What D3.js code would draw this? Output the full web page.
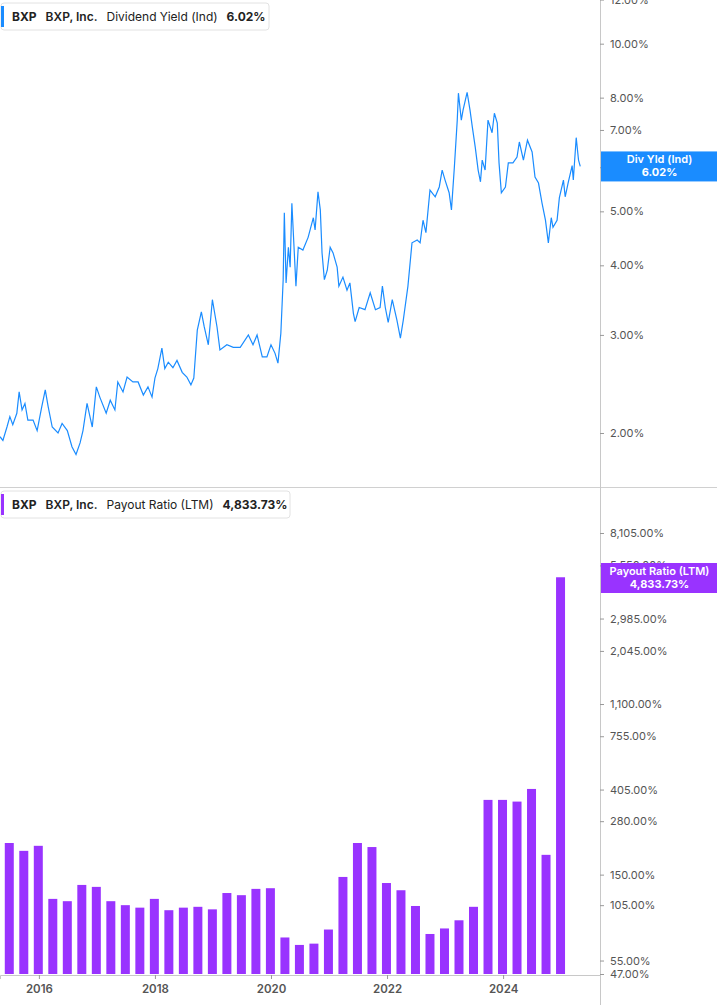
<!DOCTYPE html>
<html><head><meta charset="utf-8">
<script src="https://cdn.jsdelivr.net/npm/d3@7"></script>
<style>
body{margin:0;background:#fff;font-family:Inter,"Noto Sans",sans-serif;}
svg text{font-family:Inter,"Noto Sans",sans-serif;}
</style></head><body>
<div id="chart"></div>
<script>
// dividend yield (ind), % — [decimal year, value]
var yieldSeries = [
[2015.33,1.97],[2015.38,1.94],[2015.45,2.05],[2015.50,2.14],[2015.55,2.07],[2015.62,2.17],[2015.66,2.37],[2015.71,2.20],
[2015.76,2.26],[2015.81,2.11],[2015.90,2.11],[2015.97,2.02],[2016.05,2.23],[2016.11,2.39],[2016.16,2.23],[2016.23,2.05],
[2016.33,2.00],[2016.40,2.08],[2016.49,2.02],[2016.57,1.89],[2016.64,1.83],[2016.71,1.92],[2016.76,2.02],[2016.83,2.26],
[2016.92,2.05],[2016.99,2.42],[2017.05,2.32],[2017.16,2.17],[2017.23,2.29],[2017.31,2.20],[2017.36,2.47],[2017.45,2.37],
[2017.52,2.52],[2017.62,2.47],[2017.71,2.47],[2017.80,2.34],[2017.88,2.42],[2017.95,2.32],[2018.00,2.51],[2018.05,2.61],
[2018.12,2.84],[2018.17,2.61],[2018.23,2.68],[2018.31,2.62],[2018.38,2.70],[2018.47,2.57],[2018.55,2.52],[2018.62,2.44],
[2018.67,2.51],[2018.73,3.06],[2018.80,3.30],[2018.85,3.10],[2018.92,2.88],[2018.99,3.47],[2019.07,3.10],[2019.12,2.82],
[2019.24,2.88],[2019.35,2.85],[2019.47,2.85],[2019.61,3.00],[2019.69,2.88],[2019.76,3.00],[2019.85,2.74],[2019.93,2.74],
[2020.00,2.88],[2020.07,2.78],[2020.12,2.67],[2020.17,3.02],[2020.21,3.77],[2020.23,4.97],[2020.26,3.72],[2020.30,4.31],
[2020.33,3.97],[2020.36,5.17],[2020.43,3.67],[2020.47,4.31],[2020.55,4.26],[2020.64,4.49],[2020.73,4.87],[2020.76,4.63],
[2020.81,5.42],[2020.85,5.03],[2020.88,4.21],[2020.92,3.77],[2020.97,3.92],[2021.02,4.31],[2021.07,4.21],[2021.14,3.97],
[2021.17,3.67],[2021.24,3.81],[2021.31,3.61],[2021.36,3.72],[2021.42,3.28],[2021.45,3.17],[2021.52,3.36],[2021.62,3.33],
[2021.71,3.57],[2021.80,3.33],[2021.88,3.36],[2021.92,3.67],[2021.97,3.36],[2022.02,3.16],[2022.09,3.47],[2022.17,3.19],
[2022.23,2.96],[2022.28,3.19],[2022.36,3.67],[2022.43,4.39],[2022.52,4.44],[2022.57,4.39],[2022.62,4.82],[2022.67,4.58],
[2022.74,5.46],[2022.83,5.31],[2022.90,5.53],[2022.95,5.93],[2023.00,5.69],[2023.07,5.40],[2023.11,5.03],[2023.16,6.00],
[2023.21,7.29],[2023.23,8.15],[2023.28,7.29],[2023.31,7.60],[2023.38,8.18],[2023.43,7.60],[2023.47,7.08],[2023.52,6.52],
[2023.57,5.93],[2023.61,5.65],[2023.64,6.18],[2023.69,5.93],[2023.74,7.29],[2023.81,6.92],[2023.85,7.50],[2023.90,7.20],
[2023.93,6.11],[2023.97,5.40],[2024.04,5.53],[2024.09,6.11],[2024.17,6.11],[2024.24,6.26],[2024.28,6.66],[2024.35,6.18],
[2024.42,6.71],[2024.50,6.39],[2024.55,5.76],[2024.61,5.62],[2024.67,5.18],[2024.73,4.82],[2024.78,4.39],[2024.83,4.87],
[2024.86,4.68],[2024.93,4.82],[2024.97,5.29],[2025.04,5.69],[2025.07,5.31],[2025.12,5.62],[2025.19,6.04],[2025.21,5.69],
[2025.26,6.78],[2025.30,6.18],[2025.33,6.02]
];
// payout ratio (LTM), % — quarter-end bars from 2015 Q2
var payoutQuarters = ["2015Q2","2015Q3","2015Q4","2016Q1","2016Q2","2016Q3","2016Q4","2017Q1","2017Q2","2017Q3","2017Q4",
"2018Q1","2018Q2","2018Q3","2018Q4","2019Q1","2019Q2","2019Q3","2019Q4","2020Q1","2020Q2","2020Q3","2020Q4",
"2021Q1","2021Q2","2021Q3","2021Q4","2022Q1","2022Q2","2022Q3","2022Q4","2023Q1","2023Q2","2023Q3","2023Q4",
"2024Q1","2024Q2","2024Q3","2024Q4"];
var payoutValues = [217,198,210,113,110,133,130,110,105,102,113,99,102,103,100,121,118,127,128,72,66,67,79,
146,217,207,136,125,104,75,80,88,103,359,359,352,408,189,4833.73];
var yieldTicks = [2,3,4,5,6,7,8,10,12];
var payoutTicks = [47,55,105,150,280,405,755,1100,2045,2985,5550,8105];
var yearTicks = [2016,2018,2020,2022,2024];

var W = 717, H = 1005, plotR = 600;
var blue = "#1a8cff", purple = "#9933ff";
var svg = d3.select("#chart").append("svg").attr("width", W).attr("height", H);

var x = d3.scaleLinear().domain([2015.33, 2025.67]).range([0, plotR]);
var yTop = d3.scaleLog().domain([2, 12]).range([433, 433 - 557 * Math.log10(6)]);
var yBot = d3.scaleLog().domain([47, 8105]).range([974, 533]);
var fmtPct = function(d){ return d3.format(",.2f")(d) + "%"; };

function qYear(q){ return +q.slice(0,4) + (+q.slice(5)) * 0.25 - 0.01; }

// panel frames
svg.append("line").attr("x1",0).attr("x2",W).attr("y1",487.5).attr("y2",487.5).attr("stroke","#d0d0d0");
svg.append("line").attr("x1",plotR+0.5).attr("x2",plotR+0.5).attr("y1",0).attr("y2",H).attr("stroke","#c8c8c8");

// top: line
svg.append("path").datum(yieldSeries)
  .attr("fill","none").attr("stroke",blue).attr("stroke-width",1.2)
  .attr("d", d3.line().x(function(d){return x(d[0]);}).y(function(d){return yTop(d[1]);}));

var axT = svg.append("g").attr("transform","translate("+plotR+",0)")
  .call(d3.axisRight(yTop).tickValues(yieldTicks).tickFormat(fmtPct).tickSize(4).tickPadding(6));
axT.select(".domain").remove();

// bottom: bars
var bw = (x(2016) - x(2015)) / 4 * 0.62;
svg.append("g").selectAll("rect").data(payoutValues).join("rect")
  .attr("x", function(d,i){ return x(qYear(payoutQuarters[i])) - bw/2; })
  .attr("width", bw)
  .attr("y", function(d){ return yBot(d); })
  .attr("height", function(d){ return 974 - yBot(d); })
  .attr("fill", purple);

var axB = svg.append("g").attr("transform","translate("+plotR+",0)")
  .call(d3.axisRight(yBot).tickValues(payoutTicks).tickFormat(fmtPct).tickSize(4).tickPadding(6));
axB.select(".domain").remove();

[axT, axB].forEach(function(a){
  a.selectAll("text").attr("fill","#555").style("font-size","11px");
  a.selectAll("line").attr("stroke","#999");
});

// x axis
var axX = svg.append("g").attr("transform","translate(0,975)")
  .call(d3.axisBottom(x).tickValues(yearTicks).tickFormat(d3.format("d")).tickSize(4).tickPadding(6));
axX.select(".domain").attr("stroke","#c8c8c8");
axX.selectAll("line").attr("stroke","#999");
axX.selectAll("text").attr("fill","#555").style("font-size","11.5px").style("font-weight","600");

// legends
function legend(y, color, label, value, w){
  var g = svg.append("g").attr("transform","translate(1,"+y+")");
  g.append("rect").attr("width",w).attr("height",27).attr("rx",3).attr("fill","#fff").attr("stroke","#e2e2e2");
  g.append("rect").attr("x",0).attr("y",3).attr("width",3).attr("height",21).attr("fill",color);
  var t = g.append("text").attr("x",11).attr("y",18).style("font-size","12px").attr("fill","#222");
  t.append("tspan").text("BXP").style("font-weight","700");
  t.append("tspan").attr("dx",9).text("BXP, Inc.").style("font-weight","600");
  t.append("tspan").attr("dx",9).text(label);
  t.append("tspan").attr("dx",9).text(value).style("font-weight","700");
}
legend(3, blue, "Dividend Yield (Ind)", "6.02%", 268);
legend(491, purple, "Payout Ratio (LTM)", "4,833.73%", 289);

// price tags
function tag(yc, color, l1, l2){
  var g = svg.append("g").attr("transform","translate("+(plotR+1)+","+(yc-15)+")");
  g.append("rect").attr("width",W-plotR).attr("height",30).attr("fill",color);
  g.append("text").attr("x",(W-plotR)/2).attr("y",12).attr("text-anchor","middle").attr("fill","#fff")
    .style("font-size","11px").style("font-weight","600").text(l1);
  g.append("text").attr("x",(W-plotR)/2).attr("y",25).attr("text-anchor","middle").attr("fill","#fff")
    .style("font-size","11px").style("font-weight","700").text(l2);
}
tag(yTop(6.02), blue, "Div Yld (Ind)", "6.02%");
tag(578, purple, "Payout Ratio (LTM)", "4,833.73%");
</script>
</body></html>
